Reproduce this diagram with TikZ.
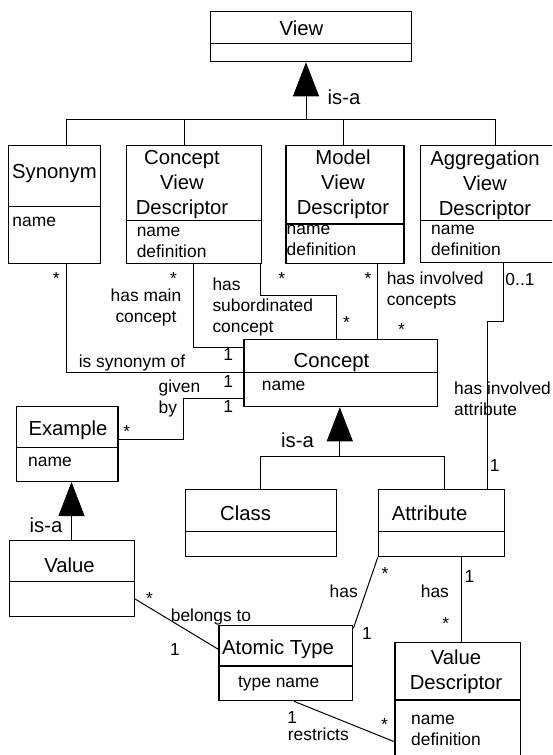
\documentclass[tikz,border=0pt]{standalone}
\usepackage{fontspec}
\setmainfont{Liberation Sans}
\usetikzlibrary{arrows.meta}
\begin{document}
\begin{tikzpicture}[x=1pt,y=-1pt,
  cls/.style={draw, line width=1.3pt, rectangle, inner sep=0pt, anchor=north west},
  big/.style={inner sep=0pt, font=\fontsize{20.3}{25}\selectfont},
  sml/.style={inner sep=0pt, font=\fontsize{17.4}{21}\selectfont},
  conn/.style={line width=1pt},
  gen/.style={line width=1pt, -{Triangle[length=34pt,width=26pt]}},
  divline/.style={line width=1.3pt}]
\useasboundingbox (0,0) rectangle (552,755);
\clip (0,0) rectangle (552,755);

% ---------- class boxes ----------
\node[cls, minimum width=201pt, minimum height=50.3pt] (view) at (210,10.7) {};
\draw[divline] (view.west |- 0,43.3) -- (view.east |- 0,43.3);
\node[cls, minimum width=92pt, minimum height=117.5pt] (syn) at (8,145) {};
\draw[divline] (syn.west |- 0,206.7) -- (syn.east |- 0,206.7);
\node[cls, minimum width=134.6pt, minimum height=117.5pt] (cvd) at (126,145) {};
\draw[divline] (cvd.west |- 0,220.7) -- (cvd.east |- 0,220.7);
\node[cls, minimum width=118pt, minimum height=117.7pt] (mvd) at (285.2,145) {};
\draw[divline] (mvd.west |- 0,224) -- (mvd.east |- 0,224);
\node[cls, minimum width=140pt, minimum height=117pt] (avd) at (419.7,145) {};
\draw[divline] (avd.west |- 0,220.7) -- (avd.east |- 0,220.7);
\node[cls, minimum width=193.4pt, minimum height=67pt] (concept) at (243.3,339) {};
\draw[divline] (concept.west |- 0,372.3) -- (concept.east |- 0,372.3);
\node[cls, minimum width=101.5pt, minimum height=75pt] (example) at (15.8,405.7) {};
\draw[divline] (example.west |- 0,447.3) -- (example.east |- 0,447.3);
\node[cls, minimum width=150.7pt, minimum height=67pt] (class) at (184.9,489) {};
\draw[divline] (class.west |- 0,531.7) -- (class.east |- 0,531.7);
\node[cls, minimum width=125.7pt, minimum height=67pt] (attr) at (377.8,489) {};
\draw[divline] (attr.west |- 0,531.7) -- (attr.east |- 0,531.7);
\node[cls, minimum width=125.3pt, minimum height=76pt] (value) at (8.5,540) {};
\draw[divline] (value.west |- 0,581.7) -- (value.east |- 0,581.7);
\node[cls, minimum width=133.8pt, minimum height=75pt] (atomic) at (218.3,625) {};
\draw[divline] (atomic.west |- 0,666) -- (atomic.east |- 0,666);
\node[cls, minimum width=125.7pt, minimum height=120pt] (vd) at (394.3,641.7) {};
\draw[divline] (vd.west |- 0,700) -- (vd.east |- 0,700);

% ---------- class texts ----------
\node[big] (tview) at (301.5,28) {View};
\node[big] (tsyn) at (54.5,173.3) {Synonym};
\node[sml, anchor=west] (asyn) at (12.3,221.7) {name};
\node[big, align=center] (tcvd) at (182,185) {Concept\\View\\Descriptor};
\node[sml, anchor=west, align=left] (acvd) at (136.6,242.2) {name\\definition};
\node[big, align=center] (tmvd) at (343,183.8) {Model\\View\\Descriptor};
\node[sml, anchor=west, align=left] (amvd) at (286.5,240) {name\\definition};
\node[big, align=center] (tavd) at (485,185) {Aggregation\\View\\Descriptor};
\node[sml, anchor=west, align=left] (aavd) at (431,240.3) {name\\definition};
\node[big] (tconcept) at (331.5,363) {Concept};
\node[sml, anchor=west] (aconcept) at (261.7,385.7) {name};
\node[big] (texample) at (68,430) {Example};
\node[sml, anchor=west] (aexample) at (28,462.3) {name};
\node[big] (tclass) at (245.6,513.3) {Class};
\node[big] (tattr) at (429.6,513.3) {Attribute};
\node[big] (tvalue) at (69.5,565) {Value};
\node[big] (tatomic) at (278,649.3) {Atomic Type};
\node[sml] (aatomic) at (278.7,683.3) {type name};
\node[big, align=center] (tvd) at (456,671.7) {Value\\Descriptor};
\node[sml, anchor=west, align=left] (avd2) at (411,729.9) {name\\definition};

% ---------- generalization: View ----------
\coordinate (busV) at (306,119);
\coordinate (busL) at (66.9,119);
\coordinate (busC) at (184.9,119);
\coordinate (busM) at (343.3,119);
\coordinate (busR) at (495.4,119);
\draw[gen] (busV) -- (busV |- view.south);
\draw[conn] (busL |- syn.north) -- (busL) -- (busR) -- (busR |- avd.north);
\draw[conn] (busC) -- (busC |- cvd.north);
\draw[conn] (busM) -- (busM |- mvd.north);
\node[big, anchor=west] (isa1) at (327.5,97) {is-a};

% ---------- associations to Concept ----------
\coordinate (sA) at (66.9,372.3);
\draw[conn] (sA |- syn.south) -- (sA) -- (sA -| concept.west);
\coordinate (mA) at (193,347.5);
\draw[conn] (mA |- cvd.south) -- (mA) -- (mA -| concept.west);
\coordinate (bA) at (260.3,295);
\coordinate (bB) at (336,295);
\draw[conn] (bA |- cvd.south) -- (bA) -- (bB) -- (bB |- concept.north);
\coordinate (cA) at (377.5,300);
\draw[conn] (cA |- mvd.south) -- (cA |- concept.north);
\coordinate (aA) at (503.5,321.7);
\coordinate (aB) at (487.7,321.7);
\draw[conn] (aA |- avd.south) -- (aA) -- (aB) -- (aB |- attr.north);
\coordinate (gA) at (183,398);
\coordinate (gB) at (183,439.3);
\draw[conn] (gA -| concept.west) -- (gA) -- (gB) -- (gB -| example.east);

\node[sml] (m1) at (56.3,278.3) {*};
\node[sml] (m2) at (173.6,278.3) {*};
\node[sml, align=center] (lmain) at (146,307.8) {has main\\concept};
\node[sml] (m3) at (281.7,278.3) {*};
\node[sml, anchor=west, align=left] (lsub) at (212.3,307.2) {has\\subordinated\\concept};
\node[sml] (m4) at (346.5,322.5) {*};
\node[sml] (m5) at (368,278.3) {*};
\node[sml, anchor=west, align=left] (linv) at (386.6,290.8) {has involved\\concepts};
\node[sml] (m6) at (401.4,330) {*};
\node[sml] (m7) at (520,280) {0..1};
\node[sml, anchor=west, align=left] (lia) at (454,398.8) {has involved\\attribute};
\node[sml] (m8) at (494.7,466) {1};
\node[sml] (m9) at (228.3,355) {1};
\node[sml] (m10) at (228.3,381.5) {1};
\node[sml] (m11) at (228.3,407) {1};
\node[sml] (lsyn) at (132,362.7) {is synonym of};
\node[sml, anchor=west, align=left] (lgiven) at (158.5,398.8) {given\\by};
\node[sml] (m12) at (126.8,431.7) {*};

% ---------- generalization: Concept ----------
\coordinate (cbL) at (260.6,456);
\coordinate (cbM) at (339.8,456);
\coordinate (cbR) at (444.7,456);
\draw[gen] (cbM) -- (cbM |- concept.south);
\draw[conn] (cbL |- class.north) -- (cbL) -- (cbR) -- (cbR |- attr.north);
\node[big] (isa2) at (297.5,440) {is-a};

% ---------- generalization: Example ----------
\coordinate (eM) at (71.5,520);
\draw[gen] (eM |- value.north) -- (eM |- example.south);
\node[big] (isa3) at (46,525) {is-a};

% ---------- lower associations ----------
\draw[conn] (value.east |- 0,599) -- (atomic.west |- 0,649.3);
\node[sml] (m13) at (149.6,599) {*};
\node[sml] (lbel) at (211,616.7) {belongs to};
\node[sml] (m14) at (175,650) {1};

\draw[conn] (attr.south west) -- (atomic.east |- 0,628.3);
\node[sml] (lhas1) at (343.7,591.7) {has};
\node[sml] (m15) at (384.9,573.3) {*};
\node[sml] (m16) at (367,633.3) {1};

\coordinate (vA) at (461.5,600);
\draw[conn] (vA |- attr.south) -- (vA |- vd.north);
\node[sml] (lhas2) at (434.9,591.7) {has};
\node[sml] (m17) at (469.4,576.7) {1};
\node[sml] (m18) at (445.7,623.3) {*};

\coordinate (rA) at (294,700);
\draw[conn] (rA |- atomic.south) -- (vd.west |- 0,741.7);
\node[sml] (m19) at (292.3,717.3) {1};
\node[sml] (lres) at (318.3,734.3) {restricts};
\node[sml] (m20) at (384.5,725) {*};
\end{tikzpicture}
\end{document}
